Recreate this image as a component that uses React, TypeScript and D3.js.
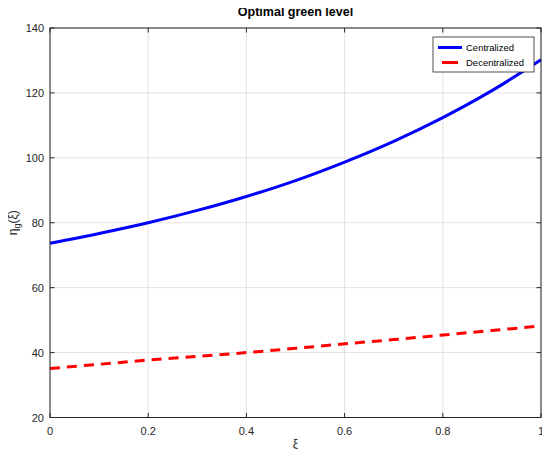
import * as d3 from 'd3'
import { useEffect, useRef } from 'react'

const xi = [0, 0.1, 0.2, 0.3, 0.4, 0.5, 0.6, 0.7, 0.8, 0.9, 1.0]
const centralized = [73.7, 76.7, 80.0, 83.8, 88.1, 93.0, 98.7, 105.1, 112.4, 120.7, 130.2]
const decentralized = [35.1, 36.4, 37.7, 38.8, 40.0, 41.3, 42.7, 44.0, 45.4, 46.8, 48.2]
const xTicks = [0, 0.2, 0.4, 0.6, 0.8, 1]
const yTicks = [20, 40, 60, 80, 100, 120, 140]
const seriesNames = ['Centralized', 'Decentralized']

const W = 550
const H = 457

const App = () => {
  const ref = useRef<SVGSVGElement>(null)

  useEffect(() => {
    const svg = d3.select(ref.current)
    svg.selectAll('*').remove()

    const left = 50
    const right = 541
    const top = 28
    const bottom = 417.5
    const font = 'Liberation Sans, Arial, sans-serif'
    const axisColor = '#262626'

    const x = d3.scaleLinear().domain([0, 1]).range([left, right])
    const y = d3.scaleLinear().domain([20, 140]).range([bottom, top])

    svg.append('rect').attr('width', W).attr('height', H).attr('fill', '#fff')

    // grid
    const grid = svg.append('g').attr('stroke', '#dcdcdc').attr('stroke-width', 0.8)
    xTicks.forEach((t) => {
      grid.append('line').attr('x1', x(t)).attr('x2', x(t)).attr('y1', top).attr('y2', bottom)
    })
    yTicks.forEach((t) => {
      grid.append('line').attr('x1', left).attr('x2', right).attr('y1', y(t)).attr('y2', y(t))
    })

    // curves
    const line = d3
      .line<number>()
      .x((_d, i) => x(xi[i]))
      .y((d) => y(d))
      .curve(d3.curveCatmullRom)

    svg
      .append('path')
      .datum(centralized)
      .attr('d', line)
      .attr('fill', 'none')
      .attr('stroke', '#0000ff')
      .attr('stroke-width', 3)

    svg
      .append('path')
      .datum(decentralized)
      .attr('d', line)
      .attr('fill', 'none')
      .attr('stroke', '#ff0000')
      .attr('stroke-width', 3)
      .attr('stroke-dasharray', '10,7')

    // box + ticks
    const axes = svg.append('g').attr('stroke', axisColor).attr('stroke-width', 1)
    axes
      .append('rect')
      .attr('x', left)
      .attr('y', top)
      .attr('width', right - left)
      .attr('height', bottom - top)
      .attr('fill', 'none')
    const tl = 4.5
    xTicks.forEach((t) => {
      axes.append('line').attr('x1', x(t)).attr('x2', x(t)).attr('y1', bottom).attr('y2', bottom - tl)
      axes.append('line').attr('x1', x(t)).attr('x2', x(t)).attr('y1', top).attr('y2', top + tl)
    })
    yTicks.forEach((t) => {
      axes.append('line').attr('x1', left).attr('x2', left + tl).attr('y1', y(t)).attr('y2', y(t))
      axes.append('line').attr('x1', right).attr('x2', right - tl).attr('y1', y(t)).attr('y2', y(t))
    })

    const fmt = d3.format('~g')
    svg
      .append('g')
      .selectAll('text')
      .data(xTicks)
      .enter()
      .append('text')
      .attr('x', (d) => x(d))
      .attr('y', 435)
      .attr('text-anchor', 'middle')
      .attr('font-family', font)
      .attr('font-size', 11)
      .attr('fill', axisColor)
      .text((d) => fmt(d))

    svg
      .append('g')
      .selectAll('text')
      .data(yTicks)
      .enter()
      .append('text')
      .attr('x', 44)
      .attr('y', (d) => y(d) + 4)
      .attr('text-anchor', 'end')
      .attr('font-family', font)
      .attr('font-size', 11)
      .attr('fill', axisColor)
      .text((d) => d)

    // title
    svg
      .append('text')
      .attr('x', (left + right) / 2)
      .attr('y', 16)
      .attr('text-anchor', 'middle')
      .attr('font-family', font)
      .attr('font-size', 12.5)
      .attr('font-weight', 'bold')
      .attr('fill', '#000')
      .text('Optimal green level')

    // x label
    svg
      .append('text')
      .attr('x', (left + right) / 2)
      .attr('y', 448)
      .attr('text-anchor', 'middle')
      .attr('font-family', font)
      .attr('font-size', 12)
      .attr('fill', axisColor)
      .text('ξ')

    // y label
    const yl = svg
      .append('text')
      .attr('transform', `translate(17,${(top + bottom) / 2}) rotate(-90)`)
      .attr('text-anchor', 'middle')
      .attr('font-family', font)
      .attr('font-size', 12)
      .attr('fill', axisColor)
    yl.append('tspan').text('η')
    yl.append('tspan').attr('font-size', 9).attr('dy', 3).text('g')
    yl.append('tspan').attr('dy', -3).text('(ξ)')

    // legend
    const lg = svg.append('g')
    lg.append('rect')
      .attr('x', 433)
      .attr('y', 37)
      .attr('width', 101)
      .attr('height', 35)
      .attr('fill', '#fff')
      .attr('stroke', axisColor)
      .attr('stroke-width', 0.8)
    const colors = ['#0000ff', '#ff0000']
    seriesNames.forEach((name, i) => {
      const ly = 47.5 + i * 15
      lg.append('line')
        .attr('x1', i === 0 ? 438 : 442)
        .attr('x2', i === 0 ? 462 : 458)
        .attr('y1', ly)
        .attr('y2', ly)
        .attr('stroke', colors[i])
        .attr('stroke-width', 3)
      lg.append('text')
        .attr('x', 466)
        .attr('y', ly + 3.5)
        .attr('font-family', font)
        .attr('font-size', 9.5)
        .attr('fill', '#000')
        .text(name)
    })
  }, [])

  return <svg ref={ref} width={W} height={H} style={{ display: 'block', margin: '-8px' }} />
}

export default App
